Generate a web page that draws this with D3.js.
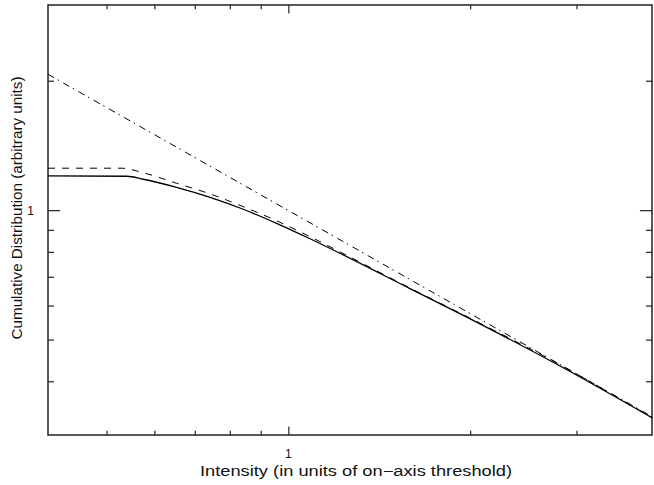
<!DOCTYPE html>
<html>
<head>
<meta charset="utf-8">
<script src="https://cdn.jsdelivr.net/npm/d3@7"></script>
<style>
  body { margin: 0; background: #fff; }
  text { font-family: "Liberation Sans", "DejaVu Sans", sans-serif; }
</style>
</head>
<body>
<div id="chart"></div>
<script>
// values (log-log plot)
var xSolid = [0.4, 0.541, 0.575, 0.653, 0.742, 0.842, 0.956, 1.073, 1.217, 1.59, 2.076, 2.817, 4.0];
var ySolid = [1.201, 1.199, 1.180, 1.130, 1.071, 1.005, 0.932, 0.865, 0.794, 0.657, 0.544, 0.434, 0.329];

var xDashed = [0.4, 0.53, 0.575, 0.653, 0.742, 0.842, 0.956, 1.073, 1.217, 1.59, 2.076, 2.817, 4.0];
var yDashed = [1.252, 1.252, 1.222, 1.155, 1.091, 1.019, 0.945, 0.875, 0.800, 0.659, 0.546, 0.437, 0.329];

var xDashDot = [0.4, 4.0];
var yDashDot = [2.07, 0.331];

var xMajorTicks = [1];
var xMinorTicks = [0.5, 0.6, 0.7, 0.8, 0.9, 2, 3];
var yMajorTicks = [1];
var yMinorTicks = [0.4, 0.5, 0.6, 0.7, 0.8, 0.9, 2];

var xTitle = "Intensity (in units of on\u2212axis threshold)";
var yTitle = "Cumulative Distribution (arbitrary units)";

var width = 654,
  height = 485,
  plotLeft = 48,
  plotRight = 652,
  plotTop = 5,
  plotBottom = 435;

var svg = d3
  .select("#chart")
  .append("svg")
  .attr("width", width)
  .attr("height", height);

var x = d3.scaleLog().domain([0.4, 4]).range([plotLeft, plotRight]);
var y = d3.scaleLog().domain([0.3, 3]).range([plotBottom, plotTop]);

var plotW = plotRight - plotLeft,
  plotH = plotBottom - plotTop;

// tick lengths like IDL: 2% of the other dimension, minor half that
var xMajLen = 0.02 * plotH,
  yMajLen = 0.02 * plotW;

//ticks only, labels are added by hand below
function addAxis(axisFn, scale, ticks, len, tx, ty) {
  svg
    .append("g")
    .attr("transform", "translate(" + tx + "," + ty + ")")
    .call(
      axisFn(scale)
        .tickValues(ticks)
        .tickSize(-len)
        .tickFormat("")
    )
    .call(function(g) {
      g.select(".domain").remove();
      g.selectAll("line").attr("stroke", "#222").attr("stroke-width", 1.2);
    });
}

//bottom and top axis
addAxis(d3.axisBottom, x, xMajorTicks, xMajLen, 0, plotBottom);
addAxis(d3.axisBottom, x, xMinorTicks, xMajLen / 2, 0, plotBottom);
addAxis(d3.axisTop, x, xMajorTicks, xMajLen, 0, plotTop);
addAxis(d3.axisTop, x, xMinorTicks, xMajLen / 2, 0, plotTop);

//left and right axis
addAxis(d3.axisLeft, y, yMajorTicks, yMajLen, plotLeft, 0);
addAxis(d3.axisLeft, y, yMinorTicks, yMajLen / 2, plotLeft, 0);
addAxis(d3.axisRight, y, yMajorTicks, yMajLen, plotRight, 0);
addAxis(d3.axisRight, y, yMinorTicks, yMajLen / 2, plotRight, 0);

//tick labels
svg
  .selectAll(".xlab")
  .data(xMajorTicks)
  .enter()
  .append("text")
  .attr("class", "xlab")
  .attr("x", function(d) { return x(d); })
  .attr("y", 458)
  .attr("text-anchor", "middle")
  .attr("font-size", "12px")
  .attr("fill", "#111")
  .text(d3.format("d"));

svg
  .selectAll(".ylab")
  .data(yMajorTicks)
  .enter()
  .append("text")
  .attr("class", "ylab")
  .attr("x", 34)
  .attr("y", function(d) { return y(d) + 4.5; })
  .attr("text-anchor", "end")
  .attr("font-size", "12px")
  .attr("fill", "#111")
  .text(d3.format("d"));

//frame
svg
  .append("rect")
  .attr("x", plotLeft)
  .attr("y", plotTop)
  .attr("width", plotW)
  .attr("height", plotH)
  .attr("fill", "none")
  .attr("stroke", "#222")
  .attr("stroke-width", 1.5);

var line = d3
  .line()
  .x(function(d) { return x(d[0]); })
  .y(function(d) { return y(d[1]); })
  .curve(d3.curveMonotoneX);

function zipXY(xs, ys) {
  return xs.map(function(v, i) { return [v, ys[i]]; });
}

//power-law reference line (dash-dot)
svg
  .append("path")
  .datum(zipXY(xDashDot, yDashDot))
  .attr("d", line)
  .attr("fill", "none")
  .attr("stroke", "#000")
  .attr("stroke-width", 1)
  .attr("stroke-dasharray", "7,4,1.5,5");

svg
  .append("path")
  .datum(zipXY(xDashed, yDashed))
  .attr("d", line)
  .attr("fill", "none")
  .attr("stroke", "#000")
  .attr("stroke-width", 1)
  .attr("stroke-dasharray", "7,7");

svg
  .append("path")
  .datum(zipXY(xSolid, ySolid))
  .attr("d", line)
  .attr("fill", "none")
  .attr("stroke", "#000")
  .attr("stroke-width", 1.3);

//axis titles
svg
  .append("text")
  .attr("x", 356)
  .attr("y", 476)
  .attr("text-anchor", "middle")
  .attr("font-size", "14px")
  .attr("fill", "#111")
  .attr("textLength", 312)
  .attr("lengthAdjust", "spacingAndGlyphs")
  .text(xTitle);

svg
  .append("text")
  .attr("transform", "translate(22,208) rotate(-90)")
  .attr("text-anchor", "middle")
  .attr("font-size", "14px")
  .attr("fill", "#111")
  .attr("textLength", 263)
  .attr("lengthAdjust", "spacingAndGlyphs")
  .text(yTitle);
</script>
</body>
</html>
